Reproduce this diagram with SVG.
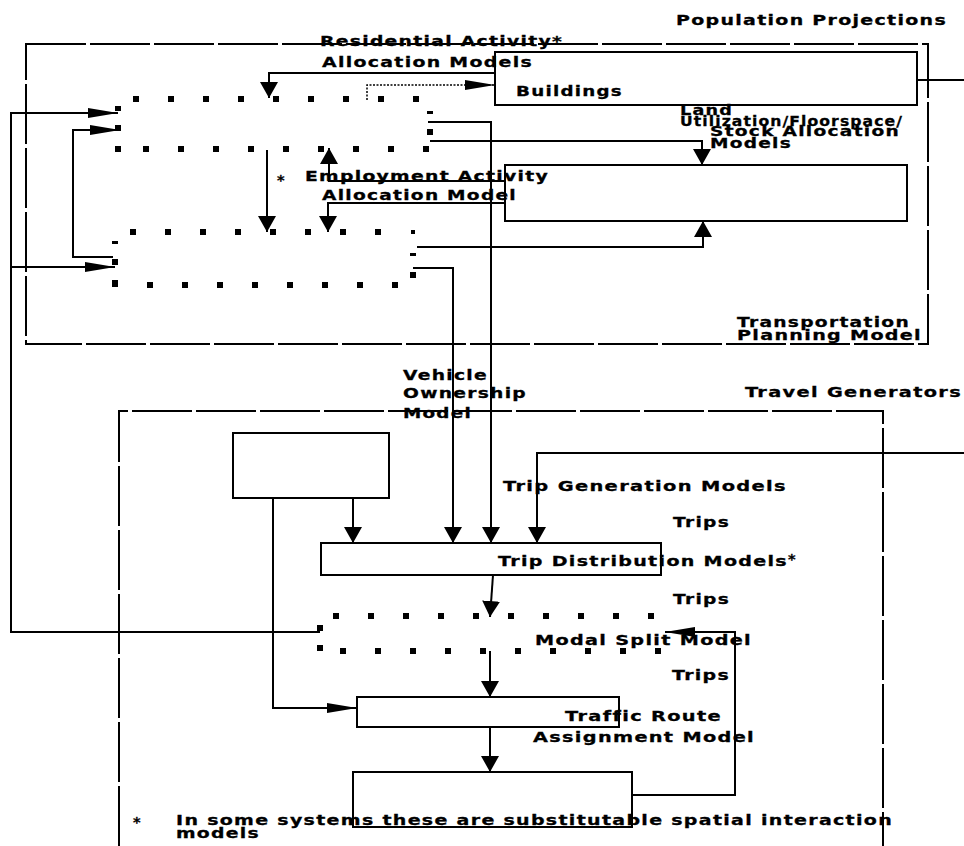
<svg xmlns="http://www.w3.org/2000/svg" width="964" height="846" viewBox="0 0 964 846">
<style>
text { font-family: "DejaVu Sans", "Liberation Sans", sans-serif; font-weight: bold; font-size: 14.5px; letter-spacing: 1px; fill: #000; stroke: #000; stroke-width: 0.3; }
.box { fill: none; stroke: #000; stroke-width: 2; }
.frame { fill: none; stroke: #000; stroke-width: 2; stroke-dasharray: 60 4; }
.conn { fill: none; stroke: #000; stroke-width: 2; }
.fine { fill: none; stroke: #000; stroke-width: 1.5; stroke-dasharray: 2 1.5; }
.dots { fill: none; stroke: #000; stroke-width: 6; stroke-dasharray: 6 29; }
.sq { fill: #000; }
.fat { marker-end: url(#fat); }
.thin { marker-end: url(#thin); }
</style>
<defs>
<marker id="fat" markerUnits="userSpaceOnUse" markerWidth="17" markerHeight="18" refX="16" refY="9" orient="auto"><path d="M0,0 L16,9 L0,18 z" fill="#000"/></marker>
<marker id="thin" markerUnits="userSpaceOnUse" markerWidth="31" markerHeight="10" refX="30" refY="5" orient="auto"><path d="M0,0 L30,5 L0,10 z" fill="#000"/></marker>
</defs>
<rect width="964" height="846" fill="#fff"/>

<g id="frame-transportation">
<rect class="frame" x="26" y="44" width="902" height="300"/>
<text x="737" y="327" textLength="173" lengthAdjust="spacingAndGlyphs">Transportation</text>
<text x="737" y="340" textLength="185" lengthAdjust="spacingAndGlyphs">Planning Model</text>
</g>
<g id="frame-travel">
<path class="frame" d="M119,846 V411 H883 V846"/>
<text x="745" y="397" textLength="217" lengthAdjust="spacingAndGlyphs">Travel Generators</text>
</g>

<g id="label-population"><text x="676" y="25" textLength="271" lengthAdjust="spacingAndGlyphs">Population Projections</text></g>

<g id="residential">
<path class="dots" d="M133,99 H419"/>
<path class="dots" d="M143,149 H429"/>
<rect class="sq" x="115" y="146" width="6" height="6"/>
<rect class="sq" x="115" y="106" width="6" height="5"/>
<rect class="sq" x="115" y="125" width="6" height="6"/>
<rect class="sq" x="427" y="111" width="6" height="3"/>
<rect class="sq" x="427" y="129" width="6" height="6"/>
<text x="320" y="46" textLength="243" lengthAdjust="spacingAndGlyphs">Residential Activity*</text>
<text x="322" y="67" textLength="211" lengthAdjust="spacingAndGlyphs">Allocation Models</text>
</g>

<g id="buildings">
<rect class="box" x="495" y="52" width="422" height="53"/>
<text x="516" y="96" textLength="107" lengthAdjust="spacingAndGlyphs">Buildings</text>
</g>

<g id="land-model">
<rect class="box" x="505" y="165" width="402" height="56"/>
<text x="680" y="115" textLength="53" lengthAdjust="spacingAndGlyphs">Land</text>
<text x="680" y="126" textLength="223" lengthAdjust="spacingAndGlyphs">Utilization/Floorspace/</text>
<text x="710" y="136" textLength="190" lengthAdjust="spacingAndGlyphs">Stock Allocation</text>
<text x="710" y="148" textLength="82" lengthAdjust="spacingAndGlyphs">Models</text>
</g>

<g id="employment">
<path class="dots" d="M130,232 H381"/>
<rect class="sq" x="411" y="230" width="4" height="4"/>
<rect class="sq" x="112" y="241" width="6" height="3"/>
<rect class="sq" x="112" y="259" width="6" height="6"/>
<rect class="sq" x="112" y="280" width="6" height="7"/>
<path class="dots" d="M147,285 H398"/>
<rect class="sq" x="410" y="253" width="6" height="3"/>
<rect class="sq" x="410" y="272" width="6" height="6"/>
<text x="277" y="185" font-size="11">*</text>
<text x="305" y="181" textLength="244" lengthAdjust="spacingAndGlyphs">Employment Activity</text>
<text x="322" y="200" textLength="195" lengthAdjust="spacingAndGlyphs">Allocation Model</text>
</g>

<g id="vehicle-ownership">
<rect class="box" x="233" y="433" width="156" height="65"/>
<text x="403" y="380" textLength="85" lengthAdjust="spacingAndGlyphs">Vehicle</text>
<text x="403" y="398" textLength="124" lengthAdjust="spacingAndGlyphs">Ownership</text>
<text x="403" y="418" textLength="69" lengthAdjust="spacingAndGlyphs">Model</text>
</g>

<g id="trip-generation">
<text x="503" y="491" textLength="284" lengthAdjust="spacingAndGlyphs">Trip Generation Models</text>
<text x="673" y="527" textLength="57" lengthAdjust="spacingAndGlyphs">Trips</text>
</g>

<g id="trip-distribution">
<rect class="box" x="321" y="543" width="340" height="32"/>
<text x="498" y="566" textLength="290" lengthAdjust="spacingAndGlyphs">Trip Distribution Models</text>
<text x="788" y="564" font-size="12">*</text>
<text x="673" y="604" textLength="57" lengthAdjust="spacingAndGlyphs">Trips</text>
</g>

<g id="modal-split">
<path class="dots" d="M333,616 H654"/>
<rect class="sq" x="317" y="625" width="6" height="6"/>
<rect class="sq" x="317" y="645" width="6" height="6"/>
<path class="dots" d="M340,651 H661"/>
<text x="535" y="645" textLength="217" lengthAdjust="spacingAndGlyphs">Modal Split Model</text>
<text x="672" y="680" textLength="58" lengthAdjust="spacingAndGlyphs">Trips</text>
</g>

<g id="traffic-route">
<rect class="box" x="357" y="697" width="262" height="30"/>
<text x="565" y="721" textLength="157" lengthAdjust="spacingAndGlyphs">Traffic Route</text>
<text x="533" y="742" textLength="222" lengthAdjust="spacingAndGlyphs">Assignment Model</text>
</g>

<g id="bottom-box">
<rect class="box" x="353" y="772" width="279" height="55"/>
</g>

<g id="footnote">
<text x="133" y="827" font-size="13">*</text>
<text x="176" y="825" textLength="717" lengthAdjust="spacingAndGlyphs">In some systems these are substitutable spatial interaction</text>
<text x="176" y="838" textLength="84" lengthAdjust="spacingAndGlyphs">models</text>
</g>

<g id="connectors">
<path class="conn fat" d="M495,73 H269 V98"/>
<path class="fine thin" d="M367,100 V85 H495"/>
<path class="conn thin" d="M320,632 H11 V113 H118"/>
<path class="conn thin" d="M11,267 H115"/>
<path class="conn thin" d="M113,257 H73 V130 H120"/>
<path class="conn fat" d="M267,150 V232"/>
<path class="conn fat" d="M505,181 H329 V148"/>
<path class="conn fat" d="M505,203 H328 V232"/>
<path class="conn fat" d="M428,122 H491 V543"/>
<path class="conn fat" d="M413,268 H453 V543"/>
<path class="conn fat" d="M417,247 H703 V221"/>
<path class="conn fat" d="M430,141 H702 V165"/>
<path class="conn" d="M917,80 H964"/>
<path class="conn fat" d="M964,453 H537 V543"/>
<path class="conn thin" d="M273,498 V708 H357"/>
<path class="conn fat" d="M353,498 V543"/>
<path class="conn fat" d="M493,575 L490,617"/>
<path class="conn fat" d="M490,651 V697"/>
<path class="conn fat" d="M490,727 V772"/>
<path class="conn thin" d="M632,795 H735 V632 H665"/>
</g>
</svg>
